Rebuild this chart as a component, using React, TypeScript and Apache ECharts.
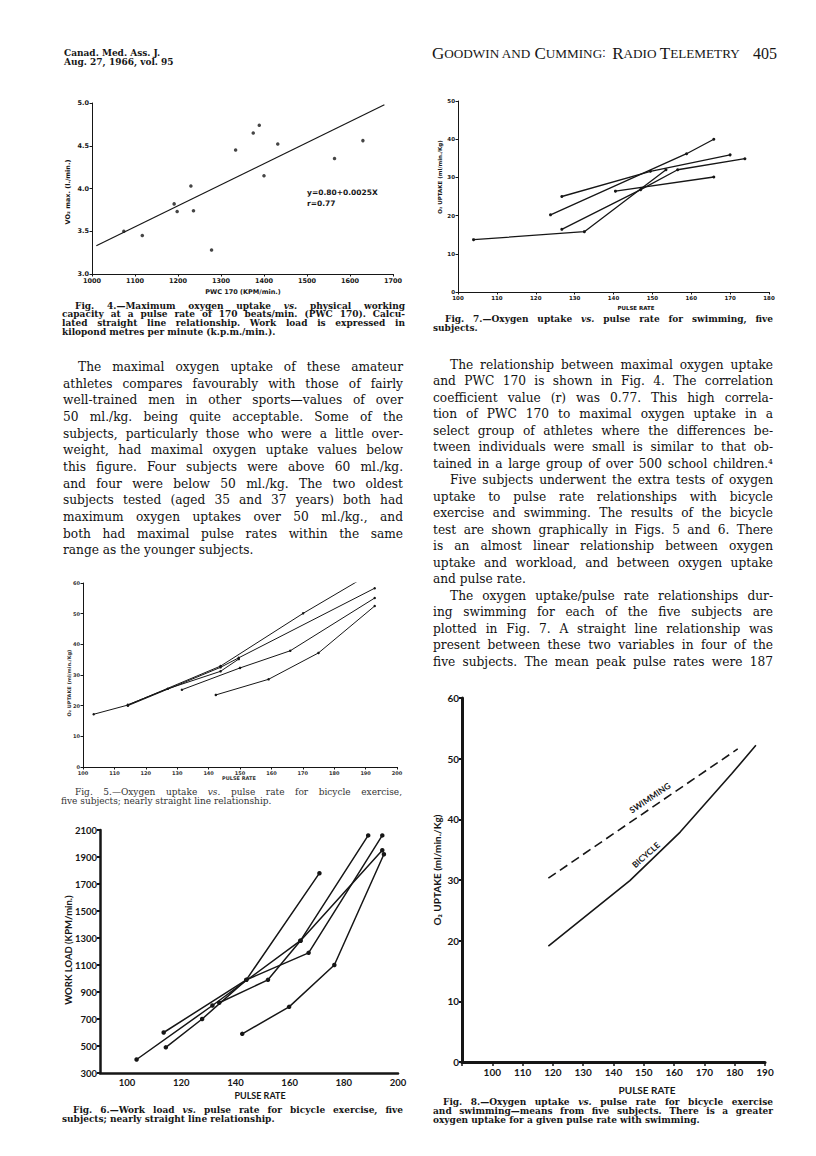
import React, { useEffect, useRef } from "react";
import * as echarts from "echarts";

// ---------- Fig. 4 : VO2 max vs PWC 170 ----------
const fig4Pwc = [1074, 1117, 1191, 1198, 1230, 1236, 1278, 1334, 1375, 1389, 1400, 1432, 1564, 1630];
const fig4Vo2 = [3.5, 3.45, 3.82, 3.73, 4.03, 3.74, 3.28, 4.45, 4.65, 4.74, 4.15, 4.52, 4.35, 4.56];
const fig4FitPwc = [1010, 1680];
const fig4FitVo2 = [3.33, 4.98];

// ---------- Fig. 7 : swimming, O2 uptake vs pulse ----------
const swimS1 = [[104, 13.7], [132.5, 15.8], [153.5, 32]];
const swimS2 = [[123.8, 20.2], [158.8, 36.2], [165.8, 40]];
const swimS3 = [[126.7, 25], [149.5, 31.6], [170, 35.9]];
const swimS4 = [[126.7, 16.4], [147, 26.8], [156.5, 32], [173.8, 34.9]];
const swimS5 = [[140.5, 26.4], [165.8, 30.1]];

// ---------- Fig. 5 : bicycle, O2 uptake vs pulse ----------
const bikeS1 = [[103.4, 17.2], [114.3, 20.2], [143.8, 32.9], [170.1, 50.1], [188.5, 61.2]];
const bikeS2 = [[114.3, 20.0], [143.8, 32.5], [149.6, 35.6], [192.9, 58.3]];
const bikeS3 = [[131.5, 25.2], [150, 32.3], [166, 37.9], [192.9, 55.1]];
const bikeS4 = [[142.3, 23.5], [159.1, 28.6], [175, 37.2], [192.9, 52.5]];
const bikeS5 = [[114.3, 20.3], [127, 25.5], [143.8, 31.2], [149.6, 35.2]];

// ---------- Fig. 6 : work load vs pulse ----------
const workS1 = [[103.5, 400], [131.5, 800], [164, 1280], [189, 2060]];
const workS2 = [[113.5, 600], [144, 990], [167, 1190], [194.2, 2060]];
const workS3 = [[114.3, 490], [127.7, 700], [144, 990], [171, 1780]];
const workS4 = [[134, 820], [152, 990], [164, 1280], [194.2, 1950]];
const workS5 = [[142.5, 590], [159.8, 790], [176.5, 1100], [194.8, 1920]];

// ---------- Fig. 8 : means ----------
const meanSwim = [[118.5, 30.3], [181, 51.6]];
const meanBike = [[118.5, 19.1], [145.4, 29.9], [162, 37.9], [179, 47.5], [187, 52.2]];

// ---------- Texts ----------
const LEFT_TEXT = [
  "\tThe maximal oxygen uptake of these amateur",
  "athletes compares favourably with those of fairly",
  "well-trained men in other sports—values of over",
  "50 ml./kg. being quite acceptable. Some of the",
  "subjects, particularly those who were a little over-",
  "weight, had maximal oxygen uptake values below",
  "this figure. Four subjects were above 60 ml./kg.",
  "and four were below 50 ml./kg. The two oldest",
  "subjects tested (aged 35 and 37 years) both had",
  "maximum oxygen uptakes over 50 ml./kg., and",
  "both had maximal pulse rates within the same",
  "range as the younger subjects.",
];
const RIGHT_TEXT = [
  "\tThe relationship between maximal oxygen uptake",
  "and PWC 170 is shown in Fig. 4. The correlation",
  "coefficient value (r) was 0.77. This high correla-",
  "tion of PWC 170 to maximal oxygen uptake in a",
  "select group of athletes where the differences be-",
  "tween individuals were small is similar to that ob-",
  "tained in a large group of over 500 school children.⁴",
  "\tFive subjects underwent the extra tests of oxygen",
  "uptake to pulse rate relationships with bicycle",
  "exercise and swimming. The results of the bicycle",
  "test are shown graphically in Figs. 5 and 6. There",
  "is an almost linear relationship between oxygen",
  "uptake and workload, and between oxygen uptake",
  "and pulse rate.",
  "\tThe oxygen uptake/pulse rate relationships dur-",
  "ing swimming for each of the five subjects are",
  "plotted in Fig. 7. A straight line relationship was",
  "present between these two variables in four of the",
  "five subjects. The mean peak pulse rates were 187",
];
const CAP4 = [
  "\tFig. 4.—Maximum oxygen uptake _vs._ physical working",
  "capacity at a pulse rate of 170 beats/min. (PWC 170). Calcu-",
  "lated straight line relationship. Work load is expressed in",
  "kilopond metres per minute (k.p.m./min.).",
];
const CAP7 = ["\tFig. 7.—Oxygen uptake _vs._ pulse rate for swimming, five", "subjects."];
const CAP5 = ["\tFig. 5.—Oxygen uptake _vs._ pulse rate for bicycle exercise,", "five subjects; nearly straight line relationship."];
const CAP6 = ["\tFig. 6.—Work load _vs._ pulse rate for bicycle exercise, five", "subjects; nearly straight line relationship."];
const CAP8 = [
  "\tFig. 8.—Oxygen uptake _vs._ pulse rate for bicycle exercise",
  "and swimming—means from five subjects. There is a greater",
  "oxygen uptake for a given pulse rate with swimming.",
];

const INK = "#161616";
const SERIF = '"DejaVu Serif"';
const SANS = '"DejaVu Sans"';
const FUT = "Lato";

export default function App() {
  const ref = useRef<HTMLDivElement>(null);
  useEffect(() => {
    const chart = echarts.init(ref.current!, null, { renderer: "svg" });
    const canvas = document.createElement("canvas");
    const ctx = canvas.getContext("2d")!;

    type Block = {
      lines: string[]; x: number; width: number; y: number; lh: number;
      size: number; family: string; weight: string; indent: number; color: string;
    };
    const blockEls = (b: Block) => {
      const out: any[] = [];
      b.lines.forEach((raw, i) => {
        const ind = raw.startsWith("\t");
        const text = ind ? raw.slice(1) : raw;
        const last = i === b.lines.length - 1 || b.lines[i + 1].startsWith("\t");
        const x0 = b.x + (ind ? b.indent : 0);
        const avail = b.x + b.width - x0;
        const toks = text.split(" ").map((t) => {
          const it = t.length > 2 && t.startsWith("_") && t.endsWith("_");
          return { t: it ? t.slice(1, -1) : t, it };
        });
        const font = (it: boolean, s: number) => `${it ? "italic" : "normal"} ${b.weight} ${s}px ${b.family}`;
        const meas = (s: number) => {
          const ws = toks.map((k) => { ctx.font = font(k.it, s); return ctx.measureText(k.t).width; });
          ctx.font = font(false, s);
          const sp = ctx.measureText(" ").width;
          const sum = ws.reduce((a, c) => a + c, 0);
          return { ws, sp, sum, nat: sum + sp * (toks.length - 1) };
        };
        let size = b.size;
        let m = meas(size);
        const minNat = m.sum + m.sp * 0.6 * (toks.length - 1);
        if (minNat > avail) {
          size = (size * avail) / minNat * 0.998;
          m = meas(size);
        }
        const justify = toks.length > 1 && (!last || m.nat > avail * 0.92);
        const gap = justify ? (avail - m.sum) / (toks.length - 1) : m.sp;
        let cx = x0;
        toks.forEach((k, j) => {
          out.push({
            type: "text", x: cx, y: b.y + i * b.lh, silent: true,
            style: {
              text: k.t, fontSize: size, fontFamily: b.family, fontWeight: b.weight,
              fontStyle: k.it ? "italic" : "normal", fill: b.color, align: "left", verticalAlign: "middle",
            },
          });
          cx += m.ws[j] + gap;
        });
      });
      return out;
    };

    const label = (text: string, x: number, y: number, size: number, family: string, opts: any = {}) => ({
      type: "text", x, y, silent: true, rotation: opts.rot || 0,
      style: {
        text, fontSize: size, fontFamily: family, fontWeight: opts.weight || "bold",
        fill: opts.color || INK, align: opts.align || "center", verticalAlign: "middle",
      },
    });

    const graphics: any[] = [
      label("Canad. Med. Ass. J.", 64, 53, 9, SERIF, { align: "left" }),
      label("Aug. 27, 1966, vol. 95", 64, 62, 9, SERIF, { align: "left" }),
      {
        type: "text", x: 432, y: 53, silent: true,
        style: {
          text: "{b|G}{s|OODWIN AND} {b|C}{s|UMMING}:  {b|R}{s|ADIO} {b|T}{s|ELEMETRY}",
          verticalAlign: "middle", align: "left",
          rich: {
            b: { fontSize: 17, fontFamily: '"Liberation Serif"', fill: INK },
            s: { fontSize: 13.2, fontFamily: '"Liberation Serif"', fill: INK },
          },
        },
      },
      label("405", 777, 53, 16, '"Liberation Serif"', { align: "right", weight: "normal" }),
      // Fig 4 annotations
      label("y=0.80+0.0025X", 307, 192, 7.5, SANS, { align: "left" }),
      label("r=0.77", 307, 203, 7.5, SANS, { align: "left" }),
      label("PWC 170 (KPM/min.)", 243, 292, 6.5, SANS),
      label("VO₂ max. (l./min.)", 68, 192, 6.5, SANS, { rot: Math.PI / 2 }),
      // Fig 7
      label("PULSE RATE", 636, 308, 5.5, SANS),
      label("O₂ UPTAKE (ml/min./Kg)", 440, 177, 5.5, SANS, { rot: Math.PI / 2 }),
      // Fig 5
      label("PULSE RATE", 239, 778, 5, SANS, { color: "#333" }),
      label("O₂ UPTAKE (ml/min./Kg)", 69, 683, 5, SANS, { rot: Math.PI / 2, color: "#333" }),
      // Fig 6
      label("PULSE RATE", 260, 1095.5, 9, FUT),
      label("WORK LOAD (KPM/min.)", 68, 950, 9.5, FUT, { rot: Math.PI / 2 }),
      // Fig 8
      label("PULSE RATE", 647, 1089.5, 10, FUT),
      label("O₂ UPTAKE (ml/min./Kg)", 437, 870, 10, FUT, { rot: Math.PI / 2 }),
      label("SWIMMING", 650, 798, 8.5, FUT, { rot: (34 * Math.PI) / 180 }),
      label("BICYCLE", 646, 855, 8.5, FUT, { rot: (42 * Math.PI) / 180 }),
      ...blockEls({ lines: LEFT_TEXT, x: 63, width: 340, y: 367, lh: 16.67, size: 12.2, family: SERIF, weight: "normal", indent: 15, color: "#111" }),
      ...blockEls({ lines: RIGHT_TEXT, x: 433, width: 340, y: 365, lh: 16.48, size: 12.2, family: SERIF, weight: "normal", indent: 17, color: "#111" }),
      ...blockEls({ lines: CAP4, x: 62, width: 343, y: 305.5, lh: 8.9, size: 9, family: SERIF, weight: "bold", indent: 13, color: INK }),
      ...blockEls({ lines: CAP7, x: 433, width: 340, y: 319, lh: 9, size: 9, family: SERIF, weight: "bold", indent: 12, color: INK }),
      ...blockEls({ lines: CAP5, x: 61, width: 341, y: 792, lh: 9, size: 9, family: SERIF, weight: "normal", indent: 14, color: "#333" }),
      ...blockEls({ lines: CAP6, x: 62, width: 341, y: 1110, lh: 9, size: 9, family: SERIF, weight: "bold", indent: 11, color: INK }),
      ...blockEls({ lines: CAP8, x: 433, width: 340, y: 1102, lh: 9, size: 9, family: SERIF, weight: "bold", indent: 10, color: INK }),
    ];

    const axisCommon = (gi: number, min: number, max: number, interval: number, o: any) => ({
      gridIndex: gi, type: "value", min, max, interval,
      axisLine: { show: true, onZero: false, lineStyle: { color: INK, width: o.lw } },
      axisTick: { show: o.tick !== false, length: o.tl || 2.5, inside: false, lineStyle: { color: INK, width: o.tw || 1 } },
      axisLabel: {
        fontSize: o.fs, fontFamily: o.ff, fontWeight: "bold", color: o.color || INK, margin: o.margin || 3,
        formatter: o.fmt || ((v: number) => String(v)),
      },
      splitLine: { show: false },
    });

    const ln = (data: number[][], ax: number, sym: number, w: number, dash?: any) => ({
      type: "line", xAxisIndex: ax, yAxisIndex: ax, data, silent: true,
      symbol: "circle", symbolSize: sym, showSymbol: sym > 0,
      lineStyle: { color: INK, width: w, type: dash || "solid" }, itemStyle: { color: INK }, z: 3,
    });

    const option: any = {
      animation: false,
      backgroundColor: "#ffffff",
      grid: [
        { left: 92, top: 103, width: 301, height: 171 },
        { left: 458, top: 101, width: 311, height: 191 },
        { left: 83, top: 583, width: 314, height: 184 },
        { left: 100, top: 830, width: 298, height: 243 },
        { left: 462, top: 698, width: 303, height: 364 },
      ],
      xAxis: [
        axisCommon(0, 1000, 1700, 100, { lw: 1, fs: 6.5, ff: SANS }),
        axisCommon(1, 100, 180, 10, { lw: 1, fs: 5.5, ff: SANS }),
        axisCommon(2, 100, 200, 10, { lw: 1, fs: 5, ff: SANS, color: "#333" }),
        axisCommon(3, 90, 200, 10, {
          lw: 2.5, fs: 9.5, ff: FUT, tick: false, margin: 4,
          fmt: (v: number) => (v >= 100 && v % 20 === 0 ? String(v) : ""),
        }),
        axisCommon(4, 90, 190, 10, {
          lw: 3, fs: 10, ff: FUT, tl: 4, tw: 1.5, margin: 5,
          fmt: (v: number) => (v >= 100 ? String(v) : ""),
        }),
      ],
      yAxis: [
        axisCommon(0, 3, 5, 0.5, { lw: 1, fs: 6.5, ff: SANS, fmt: (v: number) => v.toFixed(1) }),
        axisCommon(1, 0, 50, 10, { lw: 1, fs: 5.5, ff: SANS }),
        axisCommon(2, 0, 60, 10, { lw: 1, fs: 5, ff: SANS, color: "#333" }),
        axisCommon(3, 300, 2100, 200, { lw: 2.5, fs: 9.5, ff: FUT, tl: 3, tw: 2, margin: 3 }),
        axisCommon(4, 0, 60, 10, { lw: 3, fs: 10, ff: FUT, tl: 3, tw: 2, margin: 3 }),
      ],
      series: [
        {
          type: "scatter", xAxisIndex: 0, yAxisIndex: 0, silent: true, symbolSize: 3.5,
          itemStyle: { color: INK }, data: fig4Pwc.map((x, i) => [x, fig4Vo2[i]]),
        },
        {
          type: "line", xAxisIndex: 0, yAxisIndex: 0, silent: true, showSymbol: false,
          lineStyle: { color: INK, width: 1.2 }, data: fig4FitPwc.map((x, i) => [x, fig4FitVo2[i]]),
        },
        ln(swimS1, 1, 3, 1.3), ln(swimS2, 1, 3, 1.3), ln(swimS3, 1, 3, 1.3), ln(swimS4, 1, 3, 1.3), ln(swimS5, 1, 3, 1.3),
        ln(bikeS1, 2, 2.5, 1), ln(bikeS2, 2, 2.5, 1), ln(bikeS3, 2, 2.5, 1), ln(bikeS4, 2, 2.5, 1), ln(bikeS5, 2, 2.5, 1),
        ln(workS1, 3, 4.5, 1.5), ln(workS2, 3, 4.5, 1.5), ln(workS3, 3, 4.5, 1.5), ln(workS4, 3, 4.5, 1.5), ln(workS5, 3, 4.5, 1.5),
        ln(meanSwim, 4, 0, 1.6, [9, 5]),
        ln(meanBike, 4, 0, 1.6),
      ],
      graphic: { elements: graphics },
    };
    chart.setOption(option);
    return () => chart.dispose();
  }, []);
  return (
    <div
      ref={ref}
      style={{ position: "absolute", left: 0, top: 0, width: 816, height: 1156, background: "#fff" }}
    />
  );
}
